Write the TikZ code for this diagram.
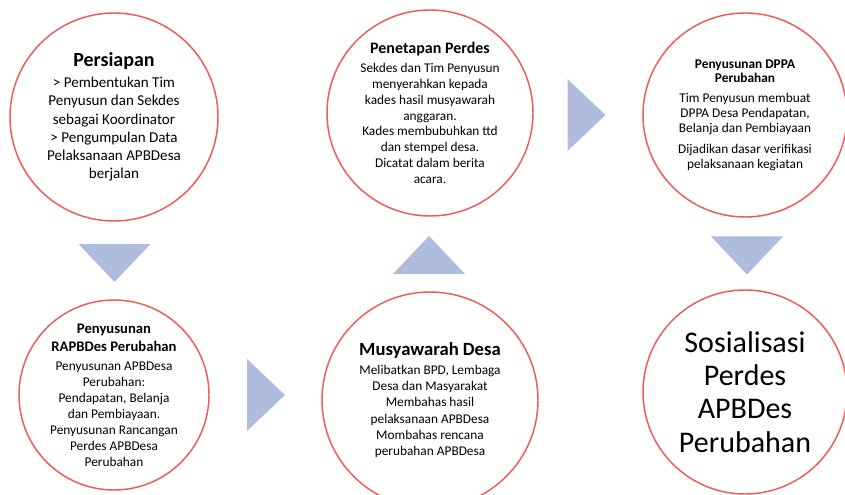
\documentclass[tikz,border=0pt]{standalone}
\usepackage{fontspec}
\setmainfont{Carlito}
\definecolor{ringred}{RGB}{244,88,88}
\definecolor{chevblue}{RGB}{176,188,222}

\tikzset{
  stepring/.style={draw=ringred, line width=1.1pt, circle, inner sep=0pt, fill=white},
  steptext/.style={align=center, inner sep=0pt},
  chev/.pic={\fill[chevblue] (-19,-36) -- (-19,36) -- (19,0) -- cycle;}
}

\begin{document}
\begin{tikzpicture}[x=0.75pt, y=-0.75pt]
  \useasboundingbox (0,0) rectangle (845,495);
  \clip (0,0) rectangle (845,495);
  % circles
  \node[stepring, minimum size=156pt] (c1) at (114,117) {};
  \node[stepring, minimum size=154.5pt] (c2) at (430,113) {};
  \node[stepring, minimum size=153pt] (c3) at (745,115) {};
  \node[stepring, minimum size=142.5pt] (c4) at (114,395) {};
  \node[stepring, minimum size=162pt] (c5) at (430,400) {};
  \node[stepring, minimum size=153pt] (c6) at (745,392) {};
  % texts
  \node[steptext, font=\fontsize{11.3}{13.65}\selectfont] (t1) at (c1) {%
    {\fontsize{15}{17}\selectfont\bfseries Persiapan}\\[2.1pt]
    > Pembentukan Tim\\ Penyusun dan Sekdes\\ sebagai Koordinator\\
    > Pengumpulan Data\\ Pelaksanaan APBDesa\\ berjalan};
  \node[steptext, font=\fontsize{10}{11.9}\selectfont] (t2) at (c2) {%
    {\fontsize{12}{14}\selectfont\bfseries Penetapan Perdes}\\[2.3pt]
    Sekdes dan Tim Penyusun\\ menyerahkan kepada\\ kades hasil musyawarah\\
    anggaran.\\ Kades membubuhkan ttd\\ dan stempel desa.\\
    Dicatat dalam berita\\ acara.};
  \node[steptext, font=\fontsize{10}{10.9}\selectfont] (t3) at (c3) {%
    {\fontsize{10}{10.5}\selectfont\bfseries Penyusunan DPPA}\\
    {\fontsize{10}{10.5}\selectfont\bfseries Perubahan}\\[4.3pt]
    Tim Penyusun membuat\\ DPPA Desa Pendapatan,\\ Belanja dan Pembiayaan\\[5.3pt]
    Dijadikan dasar verifikasi\\ pelaksanaan kegiatan};
  \node[steptext, font=\fontsize{10}{12}\selectfont] (t4) at (c4) {%
    {\fontsize{11}{13.75}\selectfont\bfseries Penyusunan}\\[1.75pt]
    {\fontsize{11}{13.75}\selectfont\bfseries RAPBDes Perubahan}\\[1.75pt]
    Penyusunan APBDesa\\ Perubahan:\\ Pendapatan, Belanja\\ dan Pembiayaan.\\
    Penyusunan Rancangan\\ Perdes APBDesa\\ Perubahan};
  \node[steptext, font=\fontsize{10}{12.15}\selectfont] (t5) at (c5) {%
    {\fontsize{14}{17}\selectfont\bfseries Musyawarah Desa}\\[2.1pt]
    Melibatkan BPD, Lembaga\\ Desa dan Masyarakat\\ Membahas hasil\\
    pelaksanaan APBDesa\\ Mombahas rencana\\ perubahan APBDesa};
  \node[steptext, font=\fontsize{22.5}{25}\selectfont] (t6) at (c6) {%
    Sosialisasi\\ Perdes\\ APBDes\\ Perubahan};
  % arrows
  \coordinate (a1) at (114.5,263);
  \coordinate (a2) at (266,395);
  \coordinate (a3) at (429,255);
  \coordinate (a4) at (586.5,115);
  \coordinate (a5) at (747,255.5);
  \pic[rotate=-90] at (a1) {chev};
  \pic at (a2) {chev};
  \pic[rotate=90] at (a3) {chev};
  \pic at (a4) {chev};
  \pic[rotate=-90] at (a5) {chev};
\end{tikzpicture}
\end{document}
